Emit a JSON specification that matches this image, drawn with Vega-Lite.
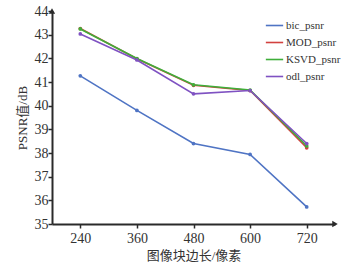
{
  "$schema": "https://vega.github.io/schema/vega-lite/v6.json",
  "width": 283,
  "height": 213,
  "autosize": "none",
  "padding": {"left": 52, "top": 11, "right": 24, "bottom": 44},
  "background": "white",
  "config": {
    "view": {"stroke": null},
    "font": "Liberation Serif, Noto Sans CJK SC"
  },
  "datasets": {
    "psnr": [
      {"blk": 240, "psnr": 41.26, "method": "bic_psnr"},
      {"blk": 360, "psnr": 39.8, "method": "bic_psnr"},
      {"blk": 480, "psnr": 38.4, "method": "bic_psnr"},
      {"blk": 600, "psnr": 37.94, "method": "bic_psnr"},
      {"blk": 720, "psnr": 35.72, "method": "bic_psnr"},
      {"blk": 240, "psnr": 43.26, "method": "MOD_psnr"},
      {"blk": 360, "psnr": 41.98, "method": "MOD_psnr"},
      {"blk": 480, "psnr": 40.86, "method": "MOD_psnr"},
      {"blk": 600, "psnr": 40.64, "method": "MOD_psnr"},
      {"blk": 720, "psnr": 38.22, "method": "MOD_psnr"},
      {"blk": 240, "psnr": 43.24, "method": "KSVD_psnr"},
      {"blk": 360, "psnr": 41.99, "method": "KSVD_psnr"},
      {"blk": 480, "psnr": 40.88, "method": "KSVD_psnr"},
      {"blk": 600, "psnr": 40.66, "method": "KSVD_psnr"},
      {"blk": 720, "psnr": 38.3, "method": "KSVD_psnr"},
      {"blk": 240, "psnr": 43.03, "method": "odl_psnr"},
      {"blk": 360, "psnr": 41.93, "method": "odl_psnr"},
      {"blk": 480, "psnr": 40.5, "method": "odl_psnr"},
      {"blk": 600, "psnr": 40.64, "method": "odl_psnr"},
      {"blk": 720, "psnr": 38.4, "method": "odl_psnr"}
    ],
    "arrowUp": [{"blk": 180, "psnr": 44}],
    "arrowRight": [{"blk": 780, "psnr": 35}]
  },
  "layer": [
    {
      "data": {"name": "psnr"},
      "mark": {"type": "line", "strokeWidth": 1.6, "point": {"size": 14, "filled": true}},
      "encoding": {
        "x": {"field": "blk", "type": "quantitative", "scale": {"domain": [180, 780], "nice": false, "zero": false},
              "axis": {"values": [240, 360, 480, 600, 720], "title": "图像块边长/像素", "grid": false, "domain": true, "domainColor": "#2a2a2a", "domainWidth": 2, "ticks": true, "tickColor": "#2a2a2a", "tickWidth": 1.5, "tickSize": 4, "labelColor": "#333", "labelFont": "Liberation Serif", "labelFontSize": 14, "labelOverlap": false, "labelPadding": 3, "titlePadding": 4, "titleFontSize": 13, "titleFontWeight": "normal", "titleColor": "#333"}},
        "y": {"field": "psnr", "type": "quantitative", "scale": {"domain": [35, 44], "nice": false, "zero": false},
              "axis": {"values": [35, 36, 37, 38, 39, 40, 41, 42, 43, 44], "tickCount": 10, "title": "PSNR值/dB", "grid": false, "domain": true, "domainColor": "#2a2a2a", "domainWidth": 2, "ticks": true, "tickColor": "#2a2a2a", "tickWidth": 1.5, "tickSize": 4, "labelColor": "#333", "labelFont": "Liberation Serif", "labelFontSize": 14, "labelOverlap": false, "labelFlush": false, "labelBound": false, "labelSeparation": 0, "labelPadding": 0, "titlePadding": 5, "titleFontSize": 13, "titleFontWeight": "normal", "titleColor": "#333"}},
        "color": {"field": "method", "type": "nominal",
                  "scale": {"domain": ["bic_psnr", "MOD_psnr", "KSVD_psnr", "odl_psnr"], "range": ["#4f74c4", "#d2413f", "#3fae3a", "#7f52c2"]},
                  "legend": {"title": null, "orient": "none", "legendX": 213, "legendY": 5, "symbolType": "stroke", "symbolSize": 300, "symbolStrokeWidth": 1.6, "labelFont": "Liberation Serif", "labelFontSize": 11, "labelColor": "#333", "rowPadding": 2, "labelOffset": 2}}
      }
    },
    {
      "data": {"name": "arrowUp"},
      "mark": {"type": "point", "shape": "triangle-up", "filled": true, "color": "#2a2a2a", "size": 40, "opacity": 1},
      "encoding": {
        "x": {"field": "blk", "type": "quantitative"},
        "y": {"field": "psnr", "type": "quantitative"}
      }
    },
    {
      "data": {"name": "arrowRight"},
      "mark": {"type": "point", "shape": "triangle-right", "filled": true, "color": "#2a2a2a", "size": 40, "opacity": 1},
      "encoding": {
        "x": {"field": "blk", "type": "quantitative"},
        "y": {"field": "psnr", "type": "quantitative"}
      }
    }
  ]
}
